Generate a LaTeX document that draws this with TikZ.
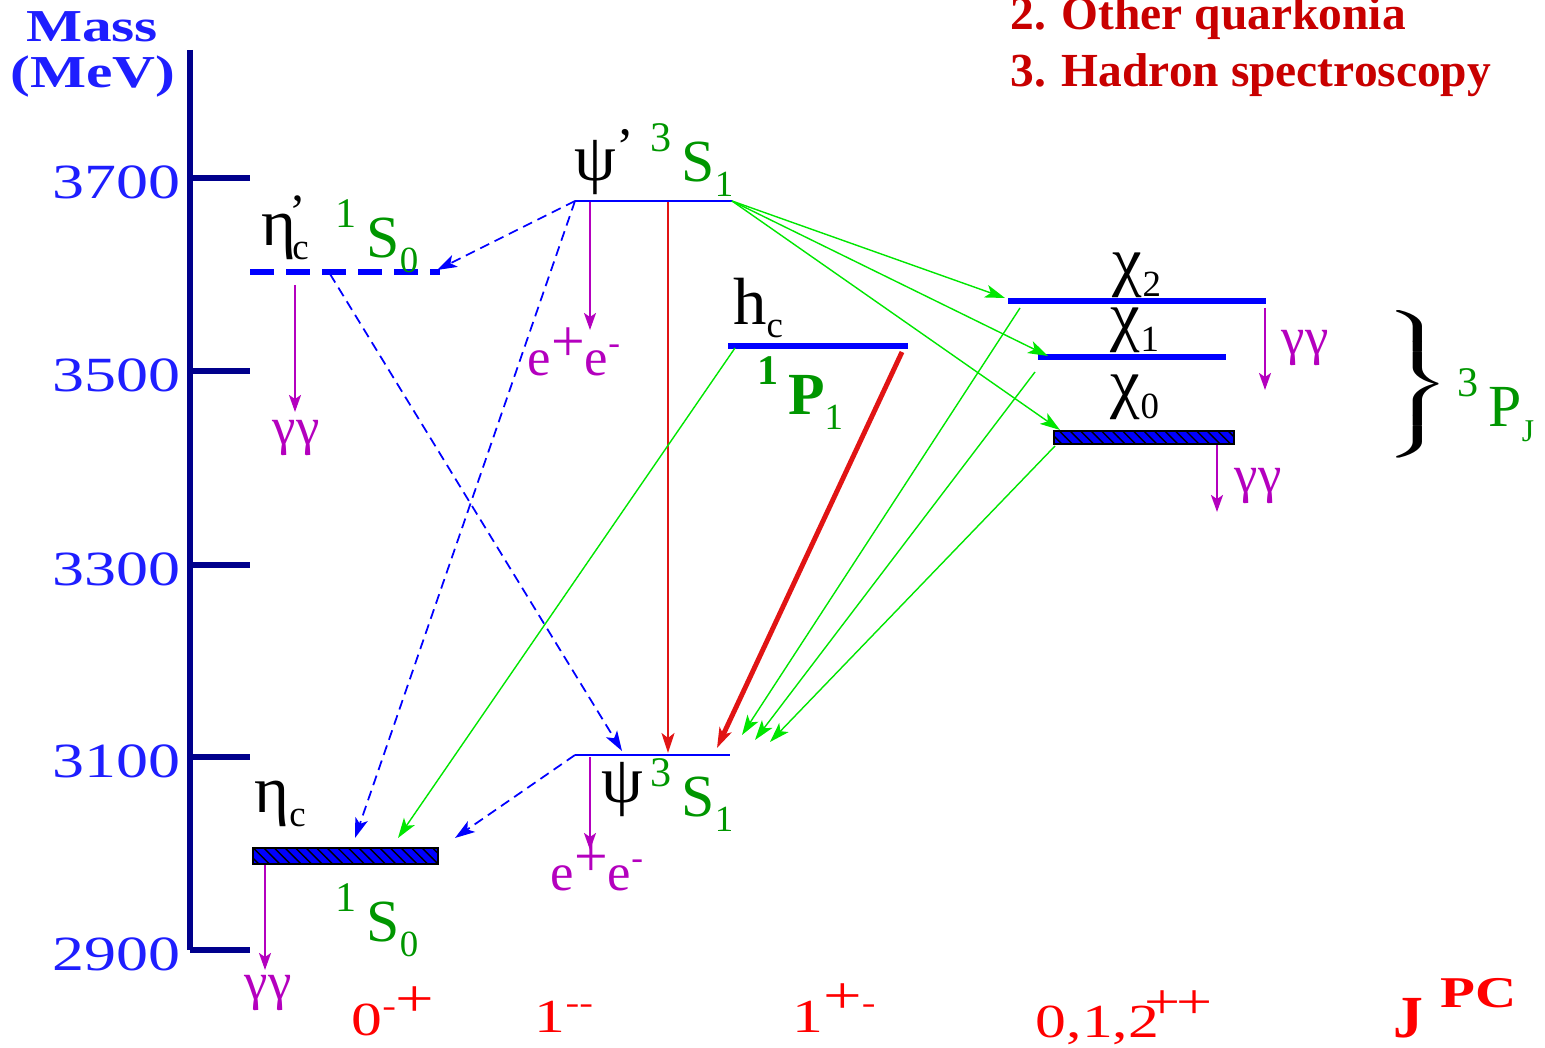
\documentclass[tikz,border=0pt]{standalone}
\usepackage{fontspec}
\setmainfont{Liberation Serif}
\newfontfamily\widefont[FakeStretch=1.3]{Liberation Serif}
\usepackage{tikz}
\usetikzlibrary{arrows.meta,patterns}

\definecolor{axisnavy}{RGB}{0,0,140}
\definecolor{ticktext}{RGB}{30,30,255}
\definecolor{levelblue}{RGB}{0,0,255}
\definecolor{decaymag}{RGB}{180,0,190}
\definecolor{radgreen}{RGB}{0,230,0}
\definecolor{termgreen}{RGB}{0,150,0}
\definecolor{titlered}{RGB}{200,0,0}
\definecolor{jpcred}{RGB}{255,0,0}
\definecolor{hadred}{RGB}{225,20,20}

% spectroscopic term: ^{#1}#2_{#3}
\newcommand{\sterm}[3]{\raisebox{1.1ex}{\fontsize{12}{12}\selectfont #1}\,#2\raisebox{-0.55ex}{\fontsize{10.5}{10.5}\selectfont #3}}
\newcommand{\jpc}[2]{#1\raisebox{0.9ex}{#2}}
\newcommand{\sub}[1]{\raisebox{-0.45ex}{\fontsize{10.5}{10.5}\selectfont #1}}

\begin{document}
\begin{tikzpicture}[
			x=0.1mm,y=-0.1mm,
			axisline/.style={line width=1.5pt,draw=axisnavy},
			ticklabel/.style={anchor=east,text=ticktext,font=\widefont\fontsize{14}{16}\selectfont},
			axistitle/.style={text=ticktext,font=\widefont\bfseries\fontsize{13}{15}\selectfont},
			headline/.style={anchor=base west,text=titlered,font=\bfseries\fontsize{13.5}{15}\selectfont},
			thinlevel/.style={line width=0.6pt,draw=levelblue},
			thicklevel/.style={line width=1.5pt,draw=levelblue},
			dashlevel/.style={line width=1.7pt,draw=levelblue,dash pattern=on 2.4mm off 1.2mm},
			hatchlevel/.style={draw=black,line width=0.5pt,fill=levelblue,postaction={pattern=north west lines}},
			statename/.style={text=black,font=\fontsize{19}{20}\selectfont},
			termlabel/.style={text=termgreen,font=\fontsize{17}{18}\selectfont},
			decay/.style={-{Stealth[length=1.7mm,width=1.2mm,inset=0.4mm]},line width=0.6pt,draw=decaymag},
			decaylabel/.style={text=decaymag,font=\fontsize{15}{16}\selectfont},
			mtrans/.style={-{Stealth[length=2mm,width=1.3mm,inset=0.5mm]},line width=0.5pt,draw=levelblue,dash pattern=on 1mm off 0.6mm},
			radtrans/.style={-{Stealth[length=2mm,width=1.3mm,inset=0.5mm]},line width=0.4pt,draw=radgreen},
			hadtrans/.style={-{Stealth[length=2mm,width=1.3mm,inset=0.5mm]},line width=0.7pt,draw=hadred},
			jpclabel/.style={anchor=base,text=jpcred,font=\widefont\fontsize{13.5}{15}\selectfont}
			]
			\useasboundingbox (0,0) rectangle (1545,1048);
			
			% mass axis
			\draw[axisline] (190,50) -- (190,950);
			\foreach \m/\y in {3700/178,3500/371,3300/565,3100/757,2900/950}{
				\draw[axisline] (190,\y) -- (250,\y);
				\node[ticklabel] (tick\m) at (193,\y+4) {\m};
			}
			\node[axistitle] (masstitle) at (92,27) {Mass};
			\node[axistitle] (unittitle) at (93,77) {(MeV)};
			
			\node[headline] (headtwo) at (998,30) {2. Other quarkonia};
			\node[headline] (headthree) at (998,87) {3. Hadron spectroscopy};
			
			% level end points
			\coordinate (etap-l) at (250,272);
			\coordinate (etap-r) at (440,272);
			\coordinate (psip-l) at (575,201);
			\coordinate (psip-r) at (732,201);
			\coordinate (hc-l) at (728,346);
			\coordinate (hc-r) at (908,346);
			\coordinate (chi2-l) at (1008,301);
			\coordinate (chi2-r) at (1266,301);
			\coordinate (chi1-l) at (1038,357);
			\coordinate (chi1-r) at (1226,357);
			\coordinate (chi0-nw) at (1054,431);
			\coordinate (chi0-se) at (1234,444);
			\coordinate (psi-l) at (575,755);
			\coordinate (psi-r) at (730,755);
			\coordinate (etac-nw) at (253,848);
			\coordinate (etac-se) at (438,864);
			
			% levels
			\draw[dashlevel] (etap-l) -- (etap-r);
			\draw[thinlevel] (psip-l) -- (psip-r);
			\draw[thicklevel] (hc-l) -- (hc-r);
			\draw[thicklevel] (chi2-l) -- (chi2-r);
			\draw[thicklevel] (chi1-l) -- (chi1-r);
			\draw[hatchlevel] (chi0-nw) rectangle (chi0-se);
			\draw[thinlevel] (psi-l) -- (psi-r);
			\draw[hatchlevel] (etac-nw) rectangle (etac-se);
			
			% state names and terms
			\node[statename] (etapname) at (285,228) {η\kern-0.1em\raisebox{0.55ex}{\fontsize{14}{14}\selectfont '}\kern-0.2em\sub{c}};
			\node[termlabel] (etapterm) at (377,236) {\sterm{1}{S}{0}};
			\node[statename] (psipname) at (604,162) {ψ\raisebox{0.5ex}{\fontsize{15}{15}\selectfont '}};
			\node[termlabel] (psipterm) at (692,160) {\sterm{3}{S}{1}};
			\node[statename] (hcname) at (758,308) {h\sub{c}};
			\node[termlabel] (hcterm) at (800,393) {\sterm{\textbf{1}}{\textbf{P}}{1}};
			\node[statename] (chitwo) at (1137,275) {χ\sub{2}};
			\node[statename] (chione) at (1135,330) {χ\sub{1}};
			\node[statename] (chizero) at (1135,397) {χ\sub{0}};
			\node[text=black,inner sep=0pt] (pbrace) at (1418,387) {\scalebox{2.2}[1]{$\nulldelimiterspace=0pt\left.\vrule height 7.1mm depth 7.1mm width 0pt\right\}$}};
			\node[termlabel] (pjterm) at (1496,405) {\sterm{3}{P}{\fontsize{9}{9}\selectfont J}};
			\node[statename] (psiname) at (622,790) {ψ};
			\node[termlabel] (psiterm) at (692,795) {\sterm{3}{S}{1}};
			\node[statename] (etacname) at (280,804) {η\sub{c}};
			\node[termlabel] (etacterm) at (377,920) {\sterm{1}{S}{0}};
			
			% decay products
			\node[decaylabel] (etapgg) at (296,438) {γγ};
			\node[decaylabel] (psipee) at (574,352) {e\raisebox{0.6ex}{\fontsize{17}{17}\selectfont +}e\raisebox{0.9ex}{\fontsize{10}{10}\selectfont -}};
			\node[decaylabel] (chitwogg) at (1305,348) {γγ};
			\node[decaylabel] (chizerogg) at (1258,486) {γγ};
			\node[decaylabel] (psiee) at (597,867) {e\raisebox{0.6ex}{\fontsize{17}{17}\selectfont +}e\raisebox{0.9ex}{\fontsize{10}{10}\selectfont -}};
			\node[decaylabel] (etacgg) at (268,993) {γγ};
			
			\coordinate (etap-d0) at (295,285);
			\coordinate (etap-d1) at (295,412);
			\coordinate (psip-d0) at (590,202);
			\coordinate (psip-d1) at (590,330);
			\coordinate (chi2-d0) at (1265,308);
			\coordinate (chi2-d1) at (1265,390);
			\coordinate (chi0-d0) at (1217,445);
			\coordinate (chi0-d1) at (1217,512);
			\coordinate (psi-d0) at (590,757);
			\coordinate (psi-d1) at (590,850);
			\coordinate (etac-d0) at (265,865);
			\coordinate (etac-d1) at (265,970);
			\draw[decay] (etap-d0) -- (etap-d1);
			\draw[decay] (psip-d0) -- (psip-d1);
			\draw[decay] (chi2-d0) -- (chi2-d1);
			\draw[decay] (chi0-d0) -- (chi0-d1);
			\draw[decay] (psi-d0) -- (psi-d1);
			\draw[decay] (etac-d0) -- (etac-d1);
			
			% M1 transitions
			\coordinate (etap-in) at (437,270);
			\coordinate (etap-out) at (330,274);
			\coordinate (etac-in1) at (355,838);
			\coordinate (etac-in2) at (398,838);
			\coordinate (etac-in3) at (455,838);
			\coordinate (psi-in1) at (622,751);
			\coordinate (psi-in2) at (668,753);
			\coordinate (psi-in3) at (717,748);
			\coordinate (psi-in4) at (742,735);
			\coordinate (psi-in5) at (755,740);
			\coordinate (psi-in6) at (770,742);
			\draw[mtrans] (psip-l) -- (etap-in);
			\draw[mtrans] (psip-l) -- (etac-in1);
			\draw[mtrans] (etap-out) -- (psi-in1);
			\draw[mtrans] (psi-l) -- (etac-in3);
			
			% hadronic transitions
			\coordinate (psip-h) at (668,202);
			\coordinate (hc-h) at (902,352);
			\draw[hadtrans] (psip-h) -- (psi-in2);
			\draw[hadtrans,line width=1.4pt] (hc-h) -- (psi-in3);
			
			% E1 transitions
			\coordinate (hc-e) at (735,348);
			\coordinate (chi2-in) at (1005,298);
			\coordinate (chi1-in) at (1048,356);
			\coordinate (chi0-in) at (1060,430);
			\coordinate (chi2-out) at (1020,308);
			\coordinate (chi1-out) at (1035,372);
			\coordinate (chi0-out) at (1055,446);
			\draw[radtrans] (hc-e) -- (etac-in2);
			\draw[radtrans] (psip-r) -- (chi2-in);
			\draw[radtrans] (psip-r) -- (chi1-in);
			\draw[radtrans] (psip-r) -- (chi0-in);
			\draw[radtrans] (chi2-out) -- (psi-in4);
			\draw[radtrans] (chi1-out) -- (psi-in5);
			\draw[radtrans] (chi0-out) -- (psi-in6);
			
			% J^PC row
			\node[jpclabel] (jpcpseudo) at (393,1036) {\jpc{0}{\fontsize{9}{9}\selectfont -\fontsize{15}{15}\selectfont +}};
			\node[jpclabel] (jpcvector) at (564,1033) {\jpc{1}{\fontsize{9}{9}\selectfont{-}{-}}};
			\node[jpclabel] (jpcaxial) at (834,1033) {\jpc{1}{\fontsize{15}{15}\selectfont +\fontsize{9}{9}\selectfont -}};
			\node[jpclabel] (jpcchi) at (1124,1038) {\jpc{0,1,2}{\kern-0.3em\fontsize{14}{14}\selectfont +\kern-0.1em+}};
			\node[jpclabel,font=\bfseries\fontsize{17}{18}\selectfont] (jpcname) at (1455,1038) {J\hspace{0.3em}\raisebox{1.1ex}{\widefont\fontsize{12.5}{12}\selectfont PC}};
		\end{tikzpicture}
\end{document}
